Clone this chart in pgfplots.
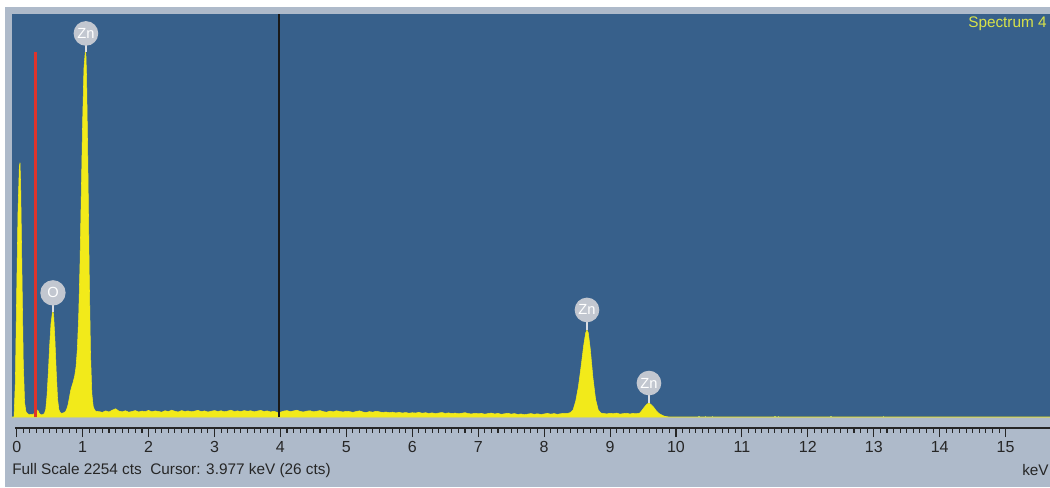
\documentclass[border=0pt]{standalone}
\usepackage{pgfplots}
\pgfplotsset{compat=1.18}
\usepackage{fontspec}
\setmainfont{Liberation Sans}
\definecolor{pagegray}{HTML}{AEBACA}
\definecolor{plotblue}{HTML}{37608B}
\definecolor{specyellow}{HTML}{F2EA1A}
\definecolor{labyellow}{HTML}{D8E24A}
\definecolor{badge}{HTML}{C2C7D0}
\definecolor{redline}{HTML}{E0332B}
\definecolor{palegreen}{HTML}{B8D060}
\begin{document}
\begin{tikzpicture}[x=0.75pt,y=0.75pt]
\useasboundingbox (0,0) rectangle (1050,487);
\fill[white] (0,0) rectangle (1050,487);
\fill[pagegray] (5,0) rectangle (1050,480);
\begin{axis}[at={(9pt,52.5pt)}, anchor=south west, scale only axis,
  width=778.5pt, height=302.25pt,
  xmin=-0.0713, xmax=15.673, ymin=0, ymax=2254,
  axis background/.style={fill=plotblue},
  axis line style={draw=none}, ticks=none, clip=false]
\addplot[fill=specyellow, draw=specyellow, line width=0.4pt] coordinates {
(-0.0713,0) (-0.04,0) (-0.02,200) (0.00,700) (0.02,1150) (0.04,1400) (0.05,1422) (0.06,1300) (0.08,800) (0.10,300) (0.12,80) (0.14,30) (0.16,20) (0.18,15) (0.20,12) (0.22,15) (0.24,12) (0.26,18) (0.28,14) (0.30,20) (0.32,38) (0.34,22) (0.36,15) (0.38,12) (0.40,14) (0.42,20)
(0.44,40) (0.46,120) (0.48,250) (0.50,400) (0.52,520) (0.54,580) (0.55,590) (0.56,570) (0.58,430) (0.60,250) (0.62,100) (0.64,40) (0.66,25) (0.68,20) (0.70,22) (0.72,25) (0.74,30) (0.76,45) (0.78,70) (0.80,110) (0.82,150) (0.84,175) (0.86,200) (0.88,230) (0.90,280) (0.92,380) (0.94,560) (0.96,850) (0.98,1250) (1.00,1650) (1.02,1950) (1.04,2041) (1.05,2030) (1.06,1900) (1.08,1400) (1.10,800) (1.12,350) (1.14,130) (1.16,60) (1.18,40) (1.20,32)
(1.25,30) (1.30,26) (1.35,34) (1.40,28) (1.45,38) (1.50,46) (1.55,33) (1.60,29) (1.65,35) (1.70,27) (1.75,31) (1.80,36) (1.85,28) (1.90,33) (1.95,30) (2.00,37)
(2.05,29) (2.10,34) (2.15,31) (2.20,27) (2.25,35) (2.30,30) (2.35,38) (2.40,32) (2.45,28) (2.50,36) (2.55,31) (2.60,34) (2.65,29) (2.70,33) (2.75,37) (2.80,30) (2.85,34) (2.90,28) (2.95,32) (3.00,36)
(3.05,31) (3.10,35) (3.15,29) (3.20,33) (3.25,38) (3.30,31) (3.35,34) (3.40,30) (3.45,36) (3.50,32) (3.55,35) (3.60,29) (3.65,33) (3.70,37) (3.75,31) (3.80,34) (3.85,28) (3.90,32) (3.95,26) (4.00,27)
(4.05,33) (4.10,36) (4.15,30) (4.20,34) (4.25,38) (4.30,31) (4.35,28) (4.40,33) (4.45,35) (4.50,29) (4.55,32) (4.60,36) (4.65,30) (4.70,27) (4.75,33) (4.80,29) (4.85,35) (4.90,31) (4.95,28) (5.00,32)
(5.05,30) (5.10,26) (5.15,31) (5.20,34) (5.25,28) (5.30,25) (5.35,30) (5.40,27) (5.45,32) (5.50,29) (5.55,25) (5.60,28) (5.65,24) (5.70,27) (5.75,23) (5.80,26) (5.85,22) (5.90,25) (5.95,21) (6.00,24)
(6.05,22) (6.10,26) (6.15,21) (6.20,24) (6.25,20) (6.30,23) (6.35,19) (6.40,22) (6.45,25) (6.50,20) (6.55,23) (6.60,19) (6.65,22) (6.70,18) (6.75,21) (6.80,24) (6.85,19) (6.90,17) (6.95,21) (7.00,18)
(7.05,20) (7.10,16) (7.15,19) (7.20,22) (7.25,17) (7.30,20) (7.35,15) (7.40,18) (7.45,21) (7.50,16) (7.55,19) (7.60,14) (7.65,17) (7.70,13) (7.75,16) (7.80,19) (7.85,15) (7.90,18) (7.95,14) (8.00,17)
(8.05,20) (8.10,16) (8.15,19) (8.20,15) (8.25,18) (8.30,21) (8.35,19)
(8.40,25) (8.44,40) (8.48,90) (8.52,170) (8.56,280) (8.60,400) (8.63,470) (8.65,487) (8.67,470) (8.70,380) (8.74,220) (8.78,100) (8.82,40) (8.86,22)
(8.90,20) (8.95,17) (9.00,21) (9.05,18) (9.10,22) (9.15,16) (9.20,19) (9.25,21) (9.30,17) (9.35,20) (9.40,18) (9.45,22)
(9.48,35) (9.52,55) (9.56,72) (9.59,78) (9.62,70) (9.66,55) (9.70,35) (9.74,20) (9.78,12) (9.82,5) (9.86,2) (9.90,0) (15.673,0)
} \closedcycle;
\addplot[ycomb, palegreen, line width=1pt] coordinates {
(10.35,8) (10.45,8) (10.55,6) (11.50,8) (11.55,7) (12.35,6) (13.15,6)};
\addplot[redline, line width=2.2pt] coordinates {(0.28,0) (0.28,2041)};
\addplot[black!90, line width=0.9pt] coordinates {(3.977,0) (3.977,2254)};
% badges
\draw[badge!60!white, line width=1.3pt] (axis cs:1.05,2041) -- ([yshift=8pt]axis cs:1.05,2041);
\node[circle, fill=badge, minimum size=18.5pt, inner sep=0pt, text=white, font=\fontsize{11}{11}\selectfont, yshift=14pt] at (axis cs:1.05,2041) {Zn};
\draw[badge!60!white, line width=1.3pt] (axis cs:0.55,590) -- ([yshift=8pt]axis cs:0.55,590);
\node[circle, fill=badge, minimum size=19pt, inner sep=0pt, text=white, font=\fontsize{11}{11}\selectfont, yshift=14pt] at (axis cs:0.55,590) {O};
\draw[badge!60!white, line width=1.3pt] (axis cs:8.65,487) -- ([yshift=8pt]axis cs:8.65,487);
\node[circle, fill=badge, minimum size=18.5pt, inner sep=0pt, text=white, font=\fontsize{11}{11}\selectfont, yshift=15pt] at (axis cs:8.65,487) {Zn};
\draw[badge!60!white, line width=1.3pt] (axis cs:9.59,78) -- ([yshift=9pt]axis cs:9.59,78);
\node[circle, fill=badge, minimum size=18.5pt, inner sep=0pt, text=white, font=\fontsize{11}{11}\selectfont, yshift=15pt] at (axis cs:9.59,78) {Zn};
\end{axis}
\begin{axis}[at={(11.55pt,44.25pt)}, anchor=south west, scale only axis,
  width=775.95pt, height=5pt,
  xmin=-0.02, xmax=15.673, ymin=0, ymax=1,
  axis x line=bottom, axis y line=none,
  xtick={0,1,...,15}, minor x tick num=9,
  tick align=outside, major tick length=6.75pt, minor tick length=3.5pt,
  axis line style={-, draw=black!85, line width=1pt},
  tick style={black!85, line width=0.8pt},
  xticklabel style={font=\fontsize{12}{12}\selectfont, text=black!85},
  /pgf/number format/assume math mode=true]
\addplot[draw=none] coordinates {(0,0) (15,0)};
\end{axis}
\node[anchor=west, inner sep=0pt, font=\fontsize{11.5}{12}\selectfont, text=black!85] at (12,16) {Full Scale 2254 cts\ \ Cursor: 3.977 keV (26 cts)};
\node[anchor=west, inner sep=0pt, font=\fontsize{11.5}{12}\selectfont, text=black!85] at (1022,17) {keV};
\node[anchor=west, inner sep=0pt, font=\fontsize{11.5}{12}\selectfont, text=labyellow] at (968,463) {Spectrum 4};
\end{tikzpicture}
\end{document}
